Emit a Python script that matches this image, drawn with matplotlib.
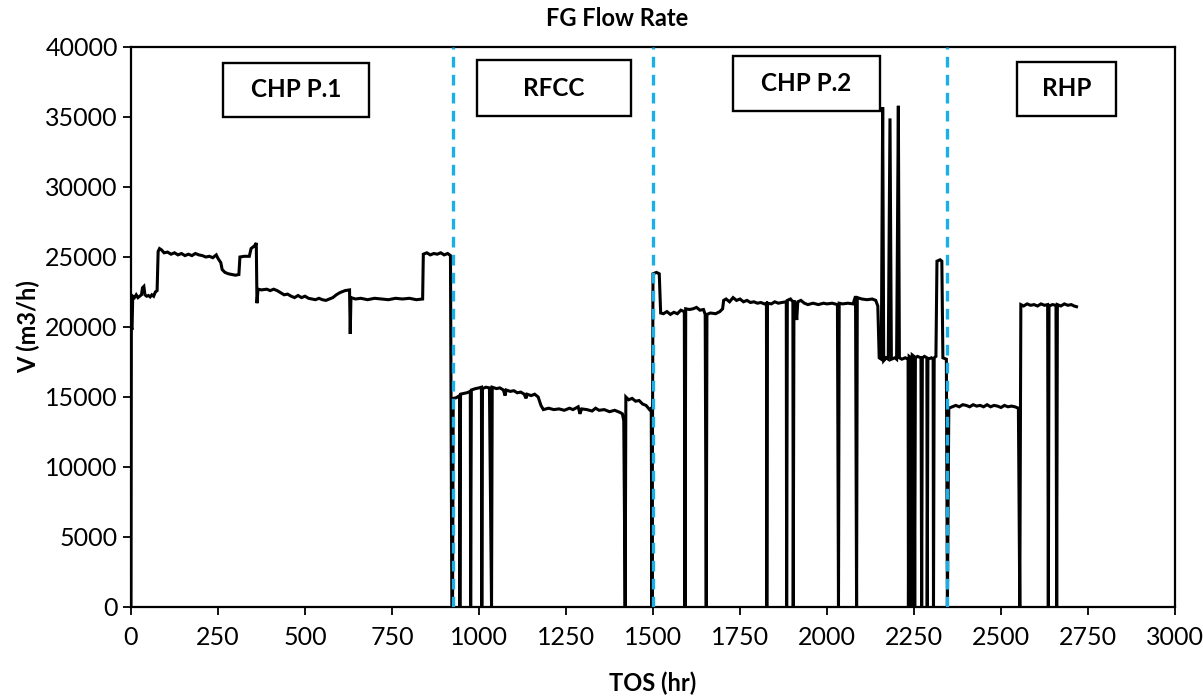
import matplotlib
matplotlib.use("Agg")
import matplotlib.pyplot as plt
from matplotlib.patches import Rectangle

plt.rcParams['font.family'] = ['Lato', 'DejaVu Sans']

# ---------------- data ----------------
tos_hr = [
    0, 1, 3, 5, 10, 15, 20, 25, 30, 33, 37, 40, 45, 50, 55, 60, 65, 70, 75,
    78, 82, 88, 95, 105, 115, 125, 135, 145, 155, 165, 175, 185, 195, 205, 215,
    225, 235, 245, 250, 258, 262, 270, 280, 290, 300, 310, 313, 325, 340, 345,
    355, 360, 362, 365, 375, 390, 400, 410, 420, 430, 440, 450, 460, 470, 480,
    490, 500, 510, 520, 530, 540, 550, 560, 570, 580, 590, 600, 615, 628, 630,
    632, 645, 660, 680, 700, 720, 740, 760, 780, 800, 820, 838, 840, 850, 860,
    870, 880, 890, 900, 910, 918, 922,
    # RFCC
    924, 926, 935, 944, 945, 947, 955, 965, 975, 976, 978, 990, 1000, 1007, 1008,
    1010, 1020, 1030, 1036, 1038, 1050, 1060, 1070, 1075, 1078, 1090, 1100, 1110,
    1120, 1130, 1135, 1138, 1150, 1160, 1170, 1178, 1185, 1200, 1215, 1230, 1245,
    1260, 1270, 1285, 1290, 1295, 1310, 1325, 1335, 1345, 1360, 1375, 1390, 1405,
    1412, 1416, 1420, 1422, 1430, 1440, 1450, 1460, 1470, 1480, 1490, 1495, 1497,
    # CHP P.2
    1500, 1510, 1518, 1522, 1530, 1540, 1550, 1560, 1570, 1580, 1590, 1592, 1594,
    1605, 1615, 1625, 1635, 1645, 1650, 1653, 1655, 1665, 1680, 1692, 1700, 1703,
    1710, 1720, 1730, 1740, 1750, 1760, 1770, 1780, 1790, 1800, 1810, 1820, 1826,
    1827, 1829, 1840, 1850, 1860, 1870, 1883, 1884, 1886, 1895, 1902, 1903, 1905,
    1910, 1913, 1916, 1925, 1935, 1945, 1960, 1975, 1990, 2000, 2015, 2030, 2033,
    2035, 2045, 2060, 2075, 2082, 2085, 2087, 2100, 2115, 2130, 2140, 2146, 2150,
    2156, 2160, 2163, 2170, 2176, 2181, 2185, 2195, 2200, 2205, 2208, 2215, 2225,
    2233, 2234, 2236, 2241, 2243, 2245, 2250, 2252, 2254, 2260, 2270, 2272, 2274,
    2280, 2287, 2288, 2290, 2300, 2305, 2306, 2308, 2313, 2316, 2325, 2330, 2333,
    2343, 2346,
    # RHP
    2350, 2360, 2370, 2380, 2390, 2400, 2410, 2420, 2430, 2440, 2450, 2460, 2470,
    2480, 2490, 2500, 2510, 2520, 2530, 2540, 2550, 2554, 2557, 2565, 2575, 2585,
    2595, 2605, 2615, 2625, 2634, 2636, 2638, 2648, 2658, 2660, 2662, 2672, 2682,
    2692, 2702, 2710, 2717,
]

flow_m3h = [
    0, 20000, 19800, 22200, 22100, 22300, 22100, 22200, 22300, 22800, 22900, 22300,
    22200, 22250, 22150, 22300, 22200, 22500, 22600,
    25400, 25600, 25500, 25300, 25350, 25200, 25300, 25150, 25250, 25100, 25200,
    25100, 25250, 25150, 25100, 25000, 25050, 24950, 25150, 24900, 24600, 24100,
    23900, 23800, 23750, 23700, 23750, 25000, 25050, 25050, 25600, 25800, 26000,
    21700, 22700, 22650, 22700, 22600, 22700, 22600, 22450, 22300, 22350, 22200,
    22100, 22250, 22100, 22200, 22050, 22000, 21950, 22050, 21950, 21900, 22000,
    22100, 22300, 22450, 22600, 22650, 19500, 22100, 22000, 22050, 21950, 22050,
    22000, 21950, 22050, 22000, 22050, 21950, 22000, 25200, 25300, 25150, 25250,
    25200, 25300, 25150, 25250, 25100, 0,
    # RFCC
    0, 14900, 14950, 15100, 0, 15200, 15250, 15300, 15400, 0, 15500, 15600, 15650,
    15700, 0, 15600, 15700, 15650, 0, 15700, 15600, 15650, 15500, 15100, 15500,
    15400, 15450, 15300, 15350, 15200, 14900, 15200, 15100, 15200, 15000, 14400,
    14100, 14200, 14100, 14150, 14050, 14200, 14100, 14300, 13800, 14150, 14100,
    14000, 14200, 14050, 14100, 13950, 14050, 13900, 13800, 13300, 0, 15000, 14800,
    14900, 14700, 14750, 14500, 14400, 14100, 14200, 0,
    # CHP P.2
    23800, 23900, 23800, 21000, 20950, 21100, 20900, 21050, 20950, 21200, 21100, 0,
    21300, 21250, 21300, 21400, 21200, 21250, 20900, 0, 20900, 21000, 20950, 21100,
    21300, 21900, 22000, 21800, 22100, 21900, 22000, 21800, 21900, 21750, 21800,
    21700, 21750, 21650, 21700, 0, 21700, 21650, 21800, 21700, 21750, 21800, 0,
    21900, 22000, 21800, 0, 21900, 21500, 20500, 21800, 21900, 21700, 21600, 21700,
    21600, 21700, 21650, 21700, 21600, 0, 21700, 21650, 21700, 21650, 22200, 0,
    22100, 22000, 21950, 22000, 21900, 21500, 17800, 17700, 35700, 17600, 17800,
    17700, 34900, 17700, 17800, 17700, 35800, 17800, 17700, 17800, 17700, 0, 17900,
    17800, 0, 18000, 17900, 0, 17800, 17900, 17800, 0, 17800, 17900, 17800, 0,
    17700, 17800, 17700, 0, 17800, 17900, 24700, 24800, 24700, 17800, 17700, 0,
    # RHP
    14200, 14300, 14400, 14300, 14450, 14400, 14300, 14450, 14350, 14400, 14300,
    14450, 14300, 14400, 14350, 14250, 14400, 14300, 14350, 14300, 14200, 0, 21600,
    21500, 21650, 21550, 21600, 21500, 21650, 21550, 21600, 0, 21500, 21600, 21550,
    0, 21600, 21500, 21650, 21550, 21600, 21500, 21450,
]

unit_boundaries = [925, 1500, 2345]
unit_names = ["CHP P.1", "RFCC", "CHP P.2", "RHP"]
# label boxes: (x_left, x_right, y_bottom, y_top) in data units
unit_boxes = [(264, 684, 35000, 38860),
              (994, 1437, 35070, 39070),
              (1730, 2152, 35430, 39360),
              (2546, 2830, 35070, 38930)]

x_ticks = list(range(0, 3001, 250))
y_ticks = list(range(0, 40001, 5000))

# ---------------- figure ----------------
W, H = 1203, 699
fig = plt.figure(figsize=(W / 100, H / 100), dpi=100)
ax = fig.add_axes([131 / W, 1 - 607 / H, (1175 - 131) / W, (607 - 47) / H])

ax.plot(tos_hr, flow_m3h, color='black', lw=2.2, zorder=2,
        solid_joinstyle='miter')

for xb in unit_boundaries:
    ax.axvline(xb, color='#1AAFE6', lw=2.4, linestyle=(0, (3.2, 2.2)), zorder=3)

for name, (x0, x1, y0, y1) in zip(unit_names, unit_boxes):
    ax.add_patch(Rectangle((x0, y0), x1 - x0, y1 - y0, facecolor='white',
                           edgecolor='black', lw=1.7, zorder=4))
    ax.text((x0 + x1) / 2, (y0 + y1) / 2, name, ha='center', va='center',
            fontsize=17.5, fontweight='bold', zorder=5)

ax.set_xlim(0, 3000)
ax.set_ylim(0, 40000)
ax.set_xticks(x_ticks)
ax.set_yticks(y_ticks)
ax.tick_params(axis='both', direction='out', length=5.5, width=1.3,
               labelsize=18, colors='black')
ax.tick_params(axis='x', pad=8)
ax.tick_params(axis='y', pad=4)
for s in ax.spines.values():
    s.set_linewidth(1.6)
    s.set_color('black')

fig.text(617 / W, 1 - 18 / H, 'FG Flow Rate', ha='center', va='center',
         fontsize=17, fontweight='bold')
ax.set_xlabel('TOS (hr)', fontsize=17, fontweight='bold')
ax.set_ylabel('V (m3/h)', fontsize=17, fontweight='bold')
ax.xaxis.set_label_coords(0.5, (607 - 683) / 560)
ax.xaxis.label.set_va('center')
ax.yaxis.set_label_coords((28 - 131) / 1044, 0.5)
ax.yaxis.label.set_va('center')

fig.savefig('out.png', dpi=100)
